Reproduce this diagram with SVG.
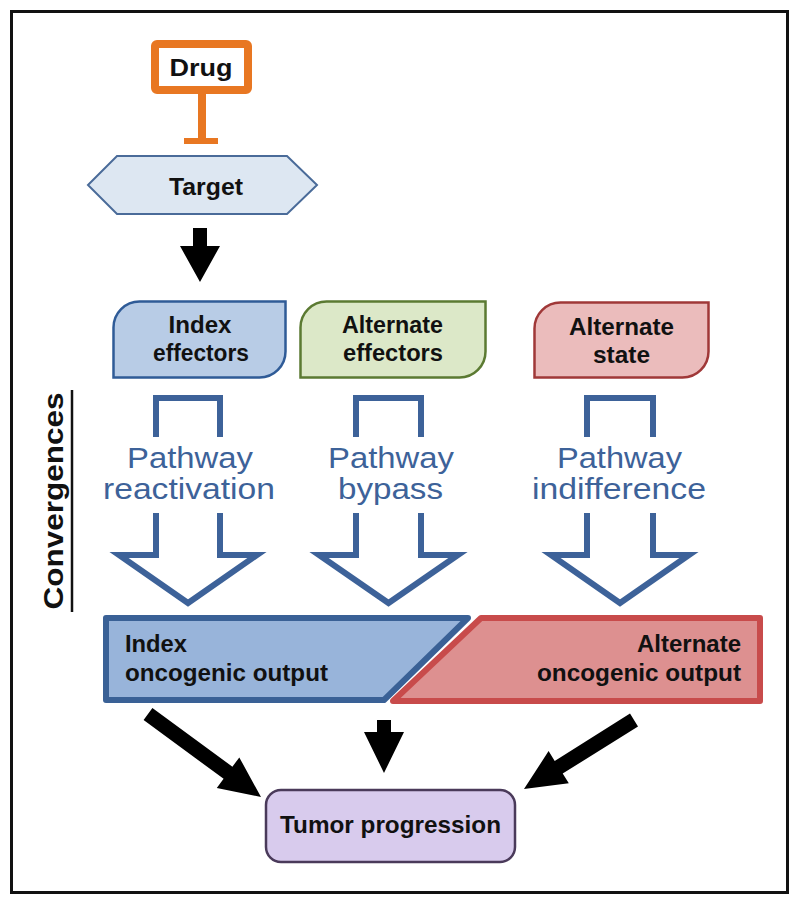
<svg xmlns="http://www.w3.org/2000/svg" width="800" height="904" viewBox="0 0 800 904">
<style>
.lbl{font-family:"Liberation Sans",Arial,sans-serif;font-weight:bold;fill:#111;}
.pw{font-family:"Liberation Sans",Arial,sans-serif;fill:#3d6299;font-size:30px;}
.hollow{fill:none;stroke:#3d6299;stroke-width:6;stroke-linejoin:miter;}
.blk{fill:#000;}
</style>
<rect x="11.5" y="11.5" width="776" height="881" fill="#fff" stroke="#111" stroke-width="3"/>

<g id="drug">
<rect x="155" y="44" width="93" height="46" rx="2" fill="#fff" stroke="#e87722" stroke-width="8"/>
<text class="lbl" x="201" y="76" font-size="23" text-anchor="middle" textLength="63" lengthAdjust="spacingAndGlyphs">Drug</text>
</g>

<g id="target">
<polygon points="88,185 117,156 287,156 317,185 287,214 117,214" fill="#dde7f2" stroke="#4a6b99" stroke-width="2"/>
<text class="lbl" x="206" y="195" font-size="23" text-anchor="middle" textLength="74" lengthAdjust="spacingAndGlyphs">Target</text>
</g>

<g id="index-effectors">
<path d="M113.5,377.5 V327.5 A26,26 0 0 1 139.5,301.5 H285.5 V351.5 A26,26 0 0 1 259.5,377.5 Z" fill="#b8cce6" stroke="#2f5b97" stroke-width="2.5"/>
<text class="lbl" x="200" y="333" font-size="23" text-anchor="middle" textLength="63" lengthAdjust="spacingAndGlyphs">Index</text>
<text class="lbl" x="201" y="361" font-size="23" text-anchor="middle" textLength="96" lengthAdjust="spacingAndGlyphs">effectors</text>
</g>

<g id="alternate-effectors">
<path d="M300.5,377.5 V327.5 A26,26 0 0 1 326.5,301.5 H485.5 V351.5 A26,26 0 0 1 459.5,377.5 Z" fill="#dce8c8" stroke="#5b7a32" stroke-width="2.5"/>
<text class="lbl" x="392.5" y="333" font-size="23" text-anchor="middle" textLength="101" lengthAdjust="spacingAndGlyphs">Alternate</text>
<text class="lbl" x="393" y="361" font-size="23" text-anchor="middle" textLength="100" lengthAdjust="spacingAndGlyphs">effectors</text>
</g>

<g id="alternate-state">
<path d="M534.5,377.5 V328.5 A26,26 0 0 1 560.5,302.5 H708.5 V351.5 A26,26 0 0 1 682.5,377.5 Z" fill="#ebbcbc" stroke="#a03838" stroke-width="2.5"/>
<text class="lbl" x="621.5" y="335" font-size="23" text-anchor="middle" textLength="105" lengthAdjust="spacingAndGlyphs">Alternate</text>
<text class="lbl" x="621.5" y="363" font-size="23" text-anchor="middle" textLength="57" lengthAdjust="spacingAndGlyphs">state</text>
</g>

<g id="convergences">
<text class="lbl" transform="translate(63,501) rotate(-90)" font-size="27" text-anchor="middle" textLength="217" lengthAdjust="spacingAndGlyphs">Convergences</text>
<line x1="72" y1="390" x2="72" y2="612" stroke="#111" stroke-width="2.5"/>
</g>

<g id="pathway-reactivation">
<path class="hollow" d="M156,437 V398 H220 V437"/>
<path class="hollow" d="M156,513 V555 H119 L188,603 L257,555 H220 V513"/>
<text class="pw" x="190" y="468" text-anchor="middle" textLength="126" lengthAdjust="spacingAndGlyphs">Pathway</text>
<text class="pw" x="189" y="499" text-anchor="middle" textLength="172" lengthAdjust="spacingAndGlyphs">reactivation</text>
</g>

<g id="pathway-bypass">
<path class="hollow" d="M356,437 V398 H421 V437"/>
<path class="hollow" d="M356,513 V555 H319 L388.5,603 L458,555 H421 V513"/>
<text class="pw" x="391" y="468" text-anchor="middle" textLength="126" lengthAdjust="spacingAndGlyphs">Pathway</text>
<text class="pw" x="390.5" y="499" text-anchor="middle" textLength="105" lengthAdjust="spacingAndGlyphs">bypass</text>
</g>

<g id="pathway-indifference">
<path class="hollow" d="M587,437 V398 H653 V437"/>
<path class="hollow" d="M587,513 V555 H551 L620,603 L689,555 H653 V513"/>
<text class="pw" x="619.5" y="468" text-anchor="middle" textLength="125" lengthAdjust="spacingAndGlyphs">Pathway</text>
<text class="pw" x="619" y="499" text-anchor="middle" textLength="174" lengthAdjust="spacingAndGlyphs">indifference</text>
</g>

<g id="index-output">
<path d="M106,618 H468 L384,700 H106 Z" fill="#98b4da" stroke="#3a6196" stroke-width="6" stroke-linejoin="round"/>
<text class="lbl" x="125" y="652" font-size="23" textLength="62" lengthAdjust="spacingAndGlyphs">Index</text>
<text class="lbl" x="125" y="681" font-size="23" textLength="203" lengthAdjust="spacingAndGlyphs">oncogenic output</text>
</g>

<g id="alternate-output">
<path d="M481,618 H760 V701 H393 Z" fill="#dd9090" stroke="#c84b4b" stroke-width="6" stroke-linejoin="round"/>
<text class="lbl" x="741" y="652" font-size="23" text-anchor="end" textLength="104" lengthAdjust="spacingAndGlyphs">Alternate</text>
<text class="lbl" x="741" y="681" font-size="23" text-anchor="end" textLength="204" lengthAdjust="spacingAndGlyphs">oncogenic output</text>
</g>

<g id="tumor-progression">
<rect x="266" y="790" width="249" height="72" rx="15" fill="#d8cbed" stroke="#4a3a5a" stroke-width="2.5"/>
<text class="lbl" x="390.5" y="833" font-size="24" text-anchor="middle" textLength="221" lengthAdjust="spacingAndGlyphs">Tumor progression</text>
</g>

<g id="connectors">
<line x1="202" y1="94" x2="202" y2="141" stroke="#e87722" stroke-width="8"/>
<line x1="184" y1="141" x2="218" y2="141" stroke="#e87722" stroke-width="6"/>
<polygon class="blk" points="193,228 207,228 207,246 220,246 200,282 180,246 193,246"/>
<polygon class="blk" points="152.4,707.9 232.4,766.7 239.3,757.4 261,797 216.8,788 223.6,778.8 143.6,720.1"/>
<polygon class="blk" points="377,720 391,720 391,732 404,732 384,773 364,732 377,732"/>
<polygon class="blk" points="630,713.6 554.7,760.9 548.6,751.1 524,789 568.8,783.3 562.7,773.6 638,726.4"/>
</g>
</svg>
